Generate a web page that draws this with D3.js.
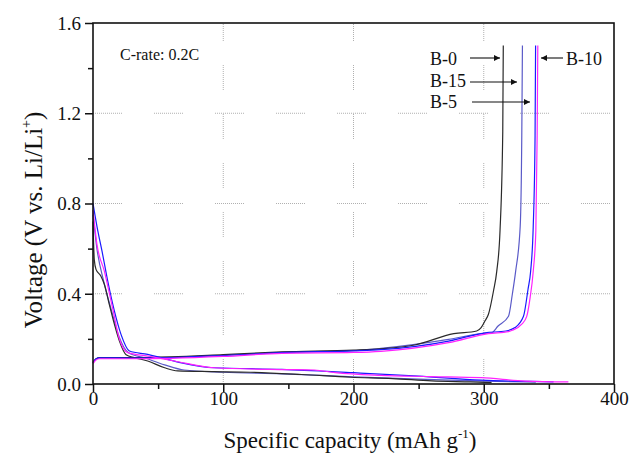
<!DOCTYPE html>
<html><head><meta charset="utf-8">
<script src="https://cdn.jsdelivr.net/npm/d3@7"></script>
<style>body{margin:0;background:#fff}svg{display:block}text{font-family:"Liberation Serif","Times New Roman",serif;fill:#111}</style>
</head><body><svg id="c" width="630" height="459"></svg>
<script>
// ---- data ----
const xTicks = [0, 100, 200, 300, 400];
const yTicks = [0.0, 0.4, 0.8, 1.2, 1.6];
const seriesNames = ["B-0", "B-15", "B-5", "B-10"];
const seriesColors = ["#2a2a2a", "#5a5ac8", "#1a1aff", "#ff22ff"];

// discharge (lithiation) curves
const b0DisCap = [0, 1, 2.3, 6, 8.7, 12.5, 16.4, 20.3, 25.4, 31.8, 42, 55, 65, 93, 121, 160, 198, 230, 260, 290, 306];
const b0DisV   = [0.72, 0.55, 0.508, 0.479, 0.442, 0.353, 0.265, 0.19, 0.13, 0.117, 0.102, 0.072, 0.058, 0.055, 0.052, 0.042, 0.03, 0.024, 0.014, 0.009, 0.006];
const b15DisCap = [0, 3, 8, 14, 20, 27, 40, 55, 70, 100, 145, 200, 250, 300, 340];
const b15DisV   = [0.75, 0.6, 0.46, 0.33, 0.21, 0.14, 0.115, 0.085, 0.062, 0.052, 0.045, 0.032, 0.022, 0.013, 0.008];
const b5DisCap = [0, 3, 7.4, 11.3, 16.4, 21.5, 28, 42, 52, 68, 93, 145, 200, 250, 298, 330, 353.6];
const b5DisV   = [0.8, 0.7, 0.575, 0.457, 0.324, 0.22, 0.146, 0.131, 0.117, 0.094, 0.072, 0.065, 0.05, 0.035, 0.017, 0.012, 0.009];
const b10DisCap = [0, 3, 8.7, 15, 20, 26.7, 42, 62.5, 93, 145, 170, 186, 221, 260, 298, 332, 365];
const b10DisV   = [0.77, 0.62, 0.5, 0.338, 0.205, 0.139, 0.124, 0.102, 0.072, 0.064, 0.062, 0.05, 0.038, 0.033, 0.028, 0.013, 0.009];

// charge (delithiation) curves
const b0ChgCap = [0, 2, 5, 30, 60, 100, 145, 200, 221, 247, 277, 294.6, 298, 301, 303.6, 307.4, 310, 312.5, 314.6, 315];
const b0ChgV   = [0.095, 0.11, 0.117, 0.117, 0.12, 0.13, 0.142, 0.15, 0.156, 0.173, 0.223, 0.235, 0.25, 0.28, 0.309, 0.41, 0.5, 0.68, 1.12, 1.5];
const b15ChgCap = [0, 2, 5, 30, 60, 100, 145, 200, 221, 273, 298, 306, 311, 319, 322, 324.5, 328, 329.2, 329.7];
const b15ChgV   = [0.095, 0.11, 0.117, 0.116, 0.118, 0.127, 0.14, 0.148, 0.158, 0.198, 0.223, 0.227, 0.257, 0.3, 0.4, 0.5, 0.7, 1.1, 1.5];
const b5ChgCap = [0, 2, 5, 30, 60, 100, 145, 200, 221, 273, 301, 317, 324, 330.5, 334, 336, 338, 339.4, 339.8];
const b5ChgV   = [0.095, 0.11, 0.116, 0.115, 0.117, 0.126, 0.139, 0.147, 0.152, 0.19, 0.227, 0.235, 0.25, 0.3, 0.42, 0.5, 0.7, 1.1, 1.5];
const b10ChgCap = [0, 2, 5, 30, 60, 100, 145, 200, 221, 273, 303.6, 319, 321.5, 329, 333, 335.6, 338, 340, 341, 341.5];
const b10ChgV   = [0.09, 0.105, 0.112, 0.112, 0.114, 0.122, 0.136, 0.14, 0.145, 0.183, 0.223, 0.232, 0.237, 0.264, 0.3, 0.383, 0.5, 0.68, 1.1, 1.5];

const curves = [
  {name: "B-0",  dis: [b0DisCap, b0DisV],   chg: [b0ChgCap, b0ChgV]},
  {name: "B-15", dis: [b15DisCap, b15DisV], chg: [b15ChgCap, b15ChgV]},
  {name: "B-5",  dis: [b5DisCap, b5DisV],   chg: [b5ChgCap, b5ChgV]},
  {name: "B-10", dis: [b10DisCap, b10DisV], chg: [b10ChgCap, b10ChgV]}
];

// ---- layout ----
const L = 93, R = 614, T = 23, B = 384;
const svg = d3.select("#c");
const x = d3.scaleLinear().domain([0, 400]).range([L, R]);
const y = d3.scaleLinear().domain([0, 1.6]).range([B, T]);

// grid (broken dotted, Origin style)
function dottedPattern(on, off) {
  const a = [];
  for (let i = 0; i < on; i += 2) a.push(1, 1);
  a[a.length - 1] = off;
  return a.join(",");
}
const g = svg.append("g");
[100, 200, 300].forEach(v => {
  g.append("line").attr("x1", x(v)).attr("x2", x(v)).attr("y1", B).attr("y2", T)
    .attr("stroke", "#b0b0b0").attr("stroke-width", 1).attr("stroke-dasharray", dottedPattern(26, 24));
});
[0.4, 0.8, 1.2].forEach(v => {
  g.append("line").attr("x1", L).attr("x2", R).attr("y1", y(v)).attr("y2", y(v))
    .attr("stroke", "#b0b0b0").attr("stroke-width", 1).attr("stroke-dasharray", dottedPattern(30, 32));
});

// curves
const line = d3.line().x(d => x(d[0])).y(d => y(d[1])).curve(d3.curveMonotoneX);
const colorOf = d3.scaleOrdinal().domain(seriesNames).range(seriesColors);
const order = ["B-15", "B-0", "B-5", "B-10"];
order.forEach(n => {
  const c = curves.find(k => k.name === n);
  [c.dis, c.chg].forEach(arr => {
    const pts = arr[0].map((v, i) => [v, arr[1][i]]);
    svg.append("path").attr("d", line(pts)).attr("fill", "none")
      .attr("stroke", colorOf(n)).attr("stroke-width", 1.2);
  });
});

// axes
const xAxis = d3.axisBottom(x).tickValues(xTicks).tickSize(8).tickFormat(d3.format("d"));
const xMinor = d3.axisBottom(x).tickValues([50, 150, 250, 350]).tickSize(5).tickFormat("");
const yAxis = d3.axisLeft(y).tickValues(yTicks).tickSize(8).tickFormat(d3.format(".1f"));
const yMinor = d3.axisLeft(y).tickValues([0.2, 0.6, 1.0, 1.4]).tickSize(5).tickFormat("");
function styleAxis(sel) {
  sel.select(".domain").remove();
  sel.selectAll("line").attr("stroke", "#111").attr("stroke-width", 1.5);
  sel.selectAll("text").attr("font-size", 19).attr("font-family", "Liberation Serif").attr("fill", "#111");
}
svg.append("g").attr("transform", `translate(0,${B})`).call(xAxis).call(styleAxis)
  .selectAll("text").attr("dy", "0").attr("y", 21);
svg.append("g").attr("transform", `translate(0,${B})`).call(xMinor).call(styleAxis);
svg.append("g").attr("transform", `translate(${L},0)`).call(yAxis).call(styleAxis)
  .selectAll("text").attr("x", -12).attr("dy", "0.33em");
svg.append("g").attr("transform", `translate(${L},0)`).call(yMinor).call(styleAxis);

// frame
svg.append("rect").attr("x", L).attr("y", T).attr("width", R - L).attr("height", B - T)
  .attr("fill", "none").attr("stroke", "#111").attr("stroke-width", 1.6);

// titles
const xt = svg.append("text").attr("x", 350).attr("y", 448).attr("text-anchor", "middle").attr("font-size", 23);
xt.append("tspan").text("Specific capacity (mAh g");
xt.append("tspan").text("-1").attr("font-size", 13).attr("dy", -10);
xt.append("tspan").text(")").attr("dy", 10);

const yt = svg.append("text").attr("transform", "translate(42,220) rotate(-90)").attr("text-anchor", "middle").attr("font-size", 25);
yt.append("tspan").text("Voltage (V vs. Li/Li");
yt.append("tspan").text("+").attr("font-size", 14).attr("dy", -11);
yt.append("tspan").text(")").attr("dy", 11);

svg.append("text").attr("x", 120).attr("y", 60).attr("font-size", 16).text("C-rate: 0.2C");

// legend labels with arrows
svg.append("defs").append("marker").attr("id", "ah").attr("viewBox", "0 0 10 10")
  .attr("refX", 10).attr("refY", 5).attr("markerWidth", 10).attr("markerHeight", 6)
  .attr("markerUnits", "userSpaceOnUse").attr("orient", "auto")
  .append("path").attr("d", "M0,0 L10,5 L0,10 Z").attr("fill", "#111");
const labels = [
  {t: "B-0",  tx: 430, ty: 65, x1: 470, x2: 500, ay: 58},
  {t: "B-15", tx: 430, ty: 87, x1: 470, x2: 517, ay: 82},
  {t: "B-5",  tx: 430, ty: 108, x1: 472, x2: 530, ay: 102},
  {t: "B-10", tx: 566, ty: 65, x1: 563, x2: 541, ay: 58}
];
labels.forEach(d => {
  svg.append("text").attr("x", d.tx).attr("y", d.ty).attr("font-size", 18).text(d.t);
  svg.append("line").attr("x1", d.x1).attr("x2", d.x2).attr("y1", d.ay).attr("y2", d.ay)
    .attr("stroke", "#111").attr("stroke-width", 1.1).attr("marker-end", "url(#ah)");
});
</script></body></html>
